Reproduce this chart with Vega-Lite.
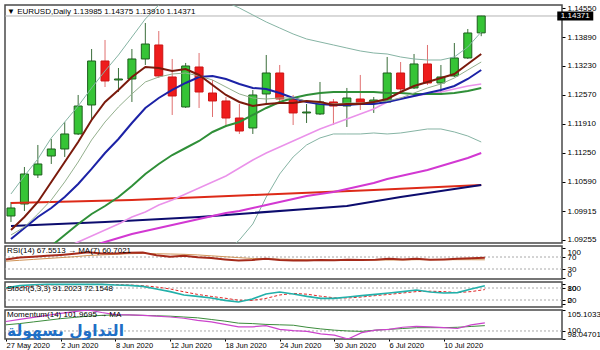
{
"$schema":"https://vega.github.io/schema/vega-lite/v6.json",
"padding":{"left":3,"top":3,"right":0,"bottom":0},
"background":"white",
"spacing":3,
"bounds":"flush",
"config":{
 "font":"Liberation Sans",
 "view":{"stroke":"#4a4a4a","strokeWidth":1.5},
 "axis":{"labelFont":"Liberation Sans","labelFontSize":8,"labelColor":"#000000","tickColor":"#000000","tickSize":3,"domain":false,"grid":false,"labelPadding":2},
 "title":{"font":"Liberation Sans","fontSize":8,"fontWeight":"normal","color":"#000000","anchor":"start","frame":"group"}
},
"datasets":{
 "candles":[
  {"d":"2020-05-27","i":0,"o":1.09803,"h":1.10123,"l":1.09666,"c":1.09986},
  {"d":"2020-05-28","i":1,"o":1.10077,"h":1.10922,"l":1.09917,"c":1.10762},
  {"d":"2020-05-29","i":2,"o":1.10740,"h":1.11425,"l":1.10671,"c":1.10991},
  {"d":"2020-06-01","i":3,"o":1.11173,"h":1.11562,"l":1.10991,"c":1.11333},
  {"d":"2020-06-02","i":4,"o":1.11333,"h":1.11950,"l":1.11151,"c":1.11676},
  {"d":"2020-06-03","i":5,"o":1.11676,"h":1.12567,"l":1.11653,"c":1.12315},
  {"d":"2020-06-04","i":6,"o":1.12338,"h":1.13617,"l":1.12019,"c":1.13343},
  {"d":"2020-06-05","i":7,"o":1.13343,"h":1.13823,"l":1.12749,"c":1.12887},
  {"d":"2020-06-08","i":8,"o":1.12909,"h":1.13183,"l":1.12635,"c":1.12932},
  {"d":"2020-06-09","i":9,"o":1.12932,"h":1.13617,"l":1.12407,"c":1.13389},
  {"d":"2020-06-10","i":10,"o":1.13389,"h":1.14211,"l":1.13252,"c":1.13731},
  {"d":"2020-06-11","i":11,"o":1.13709,"h":1.14028,"l":1.12955,"c":1.13001},
  {"d":"2020-06-12","i":12,"o":1.12978,"h":1.13389,"l":1.12110,"c":1.12544},
  {"d":"2020-06-15","i":13,"o":1.12293,"h":1.13298,"l":1.12270,"c":1.13229},
  {"d":"2020-06-16","i":14,"o":1.13206,"h":1.13526,"l":1.12270,"c":1.12635},
  {"d":"2020-06-17","i":15,"o":1.12612,"h":1.12909,"l":1.12064,"c":1.12430},
  {"d":"2020-06-18","i":16,"o":1.12430,"h":1.12521,"l":1.11836,"c":1.12041},
  {"d":"2020-06-19","i":17,"o":1.12041,"h":1.12361,"l":1.11676,"c":1.11744},
  {"d":"2020-06-22","i":18,"o":1.11813,"h":1.12681,"l":1.11676,"c":1.12567},
  {"d":"2020-06-23","i":19,"o":1.12590,"h":1.13480,"l":1.12338,"c":1.13069},
  {"d":"2020-06-24","i":20,"o":1.13069,"h":1.13252,"l":1.12407,"c":1.12475},
  {"d":"2020-06-25","i":21,"o":1.12475,"h":1.12567,"l":1.11881,"c":1.12156},
  {"d":"2020-06-26","i":22,"o":1.12156,"h":1.12361,"l":1.11927,"c":1.12178},
  {"d":"2020-06-29","i":23,"o":1.12133,"h":1.12864,"l":1.12110,"c":1.12407},
  {"d":"2020-06-30","i":24,"o":1.12407,"h":1.12475,"l":1.11881,"c":1.12315},
  {"d":"2020-07-01","i":25,"o":1.12315,"h":1.12727,"l":1.11836,"c":1.12498},
  {"d":"2020-07-02","i":26,"o":1.12475,"h":1.13024,"l":1.12224,"c":1.12361},
  {"d":"2020-07-03","i":27,"o":1.12407,"h":1.12521,"l":1.12156,"c":1.12452},
  {"d":"2020-07-06","i":28,"o":1.12407,"h":1.13435,"l":1.12384,"c":1.13069},
  {"d":"2020-07-07","i":29,"o":1.13069,"h":1.13320,"l":1.12635,"c":1.12704},
  {"d":"2020-07-08","i":30,"o":1.12727,"h":1.13503,"l":1.12704,"c":1.13275},
  {"d":"2020-07-09","i":31,"o":1.13275,"h":1.13709,"l":1.12795,"c":1.12841},
  {"d":"2020-07-10","i":32,"o":1.12841,"h":1.13252,"l":1.12567,"c":1.12978},
  {"d":"2020-07-13","i":33,"o":1.13001,"h":1.13754,"l":1.12978,"c":1.13412},
  {"d":"2020-07-14","i":34,"o":1.13412,"h":1.14074,"l":1.13389,"c":1.13983},
  {"d":"2020-07-15","i":35,"o":1.13985,"h":1.14375,"l":1.13910,"c":1.14371}
 ],
 "bid":[{"p":1.14371,"label":"1.14371"}],
 "ma5":[{"i":0,"p":1.09483},{"i":1,"p":1.09780},{"i":2,"p":1.10123},{"i":3,"p":1.10580},{"i":4,"p":1.11036},{"i":5,"p":1.11493},{"i":6,"p":1.11996},{"i":7,"p":1.12407},{"i":8,"p":1.12681},{"i":9,"p":1.12978},{"i":10,"p":1.13206},{"i":11,"p":1.13183},{"i":12,"p":1.13115},{"i":13,"p":1.13161},{"i":14,"p":1.13024},{"i":15,"p":1.12795},{"i":16,"p":1.12567},{"i":17,"p":1.12407},{"i":18,"p":1.12315},{"i":19,"p":1.12361},{"i":20,"p":1.12384},{"i":21,"p":1.12384},{"i":22,"p":1.12430},{"i":23,"p":1.12407},{"i":24,"p":1.12338},{"i":25,"p":1.12361},{"i":26,"p":1.12361},{"i":27,"p":1.12407},{"i":28,"p":1.12475},{"i":29,"p":1.12635},{"i":30,"p":1.12772},{"i":31,"p":1.12864},{"i":32,"p":1.12955},{"i":33,"p":1.13046},{"i":34,"p":1.13275},{"i":35,"p":1.13503}],
 "ma8":[{"i":0,"p":1.09369},{"i":1,"p":1.09552},{"i":2,"p":1.09849},{"i":3,"p":1.10169},{"i":4,"p":1.10580},{"i":5,"p":1.11036},{"i":6,"p":1.11539},{"i":7,"p":1.11950},{"i":8,"p":1.12293},{"i":9,"p":1.12590},{"i":10,"p":1.12864},{"i":11,"p":1.12978},{"i":12,"p":1.13046},{"i":13,"p":1.13069},{"i":14,"p":1.13001},{"i":15,"p":1.12909},{"i":16,"p":1.12749},{"i":17,"p":1.12590},{"i":18,"p":1.12498},{"i":19,"p":1.12475},{"i":20,"p":1.12498},{"i":21,"p":1.12498},{"i":22,"p":1.12430},{"i":23,"p":1.12384},{"i":24,"p":1.12361},{"i":25,"p":1.12384},{"i":26,"p":1.12384},{"i":27,"p":1.12407},{"i":28,"p":1.12430},{"i":29,"p":1.12498},{"i":30,"p":1.12612},{"i":31,"p":1.12727},{"i":32,"p":1.12818},{"i":33,"p":1.12955},{"i":34,"p":1.13138},{"i":35,"p":1.13320}],
 "blue":[{"i":0,"p":1.09278},{"i":1,"p":1.09529},{"i":2,"p":1.09780},{"i":3,"p":1.09986},{"i":4,"p":1.10237},{"i":5,"p":1.10534},{"i":6,"p":1.10877},{"i":7,"p":1.11242},{"i":8,"p":1.11562},{"i":9,"p":1.11927},{"i":10,"p":1.12270},{"i":11,"p":1.12498},{"i":12,"p":1.12681},{"i":13,"p":1.12841},{"i":14,"p":1.12978},{"i":15,"p":1.13001},{"i":16,"p":1.12932},{"i":17,"p":1.12818},{"i":18,"p":1.12727},{"i":19,"p":1.12704},{"i":20,"p":1.12612},{"i":21,"p":1.12498},{"i":22,"p":1.12407},{"i":23,"p":1.12361},{"i":24,"p":1.12338},{"i":25,"p":1.12338},{"i":26,"p":1.12361},{"i":27,"p":1.12361},{"i":28,"p":1.12407},{"i":29,"p":1.12475},{"i":30,"p":1.12544},{"i":31,"p":1.12612},{"i":32,"p":1.12681},{"i":33,"p":1.12772},{"i":34,"p":1.12932},{"i":35,"p":1.13138}],
 "sma20":[{"i":3,"p":1.09118},{"i":4,"p":1.09369},{"i":5,"p":1.09620},{"i":6,"p":1.09849},{"i":7,"p":1.10031},{"i":8,"p":1.10237},{"i":9,"p":1.10488},{"i":10,"p":1.10762},{"i":11,"p":1.10991},{"i":12,"p":1.11196},{"i":13,"p":1.11356},{"i":14,"p":1.11516},{"i":15,"p":1.11722},{"i":16,"p":1.11859},{"i":17,"p":1.11950},{"i":18,"p":1.12110},{"i":19,"p":1.12270},{"i":20,"p":1.12407},{"i":21,"p":1.12498},{"i":22,"p":1.12567},{"i":23,"p":1.12612},{"i":24,"p":1.12635},{"i":25,"p":1.12635},{"i":26,"p":1.12635},{"i":27,"p":1.12635},{"i":28,"p":1.12612},{"i":29,"p":1.12612},{"i":30,"p":1.12590},{"i":31,"p":1.12590},{"i":32,"p":1.12590},{"i":33,"p":1.12612},{"i":34,"p":1.12658},{"i":35,"p":1.12727}],
 "pink":[{"i":4,"p":1.09072},{"i":5,"p":1.09209},{"i":6,"p":1.09346},{"i":7,"p":1.09483},{"i":8,"p":1.09620},{"i":9,"p":1.09780},{"i":10,"p":1.09895},{"i":11,"p":1.10054},{"i":12,"p":1.10169},{"i":13,"p":1.10306},{"i":14,"p":1.10443},{"i":15,"p":1.10580},{"i":16,"p":1.10717},{"i":17,"p":1.10899},{"i":18,"p":1.11082},{"i":19,"p":1.11242},{"i":20,"p":1.11379},{"i":21,"p":1.11516},{"i":22,"p":1.11653},{"i":23,"p":1.11790},{"i":24,"p":1.11904},{"i":25,"p":1.12019},{"i":26,"p":1.12133},{"i":27,"p":1.12247},{"i":28,"p":1.12407},{"i":29,"p":1.12498},{"i":30,"p":1.12544},{"i":31,"p":1.12590},{"i":32,"p":1.12635},{"i":33,"p":1.12704},{"i":34,"p":1.12772},{"i":35,"p":1.12818}],
 "magenta":[{"i":6,"p":1.09118},{"i":7,"p":1.09209},{"i":8,"p":1.09300},{"i":9,"p":1.09392},{"i":10,"p":1.09460},{"i":11,"p":1.09529},{"i":12,"p":1.09597},{"i":13,"p":1.09666},{"i":14,"p":1.09735},{"i":15,"p":1.09803},{"i":16,"p":1.09872},{"i":17,"p":1.09917},{"i":18,"p":1.09986},{"i":19,"p":1.10054},{"i":20,"p":1.10123},{"i":21,"p":1.10191},{"i":22,"p":1.10260},{"i":23,"p":1.10306},{"i":24,"p":1.10351},{"i":25,"p":1.10420},{"i":26,"p":1.10488},{"i":27,"p":1.10557},{"i":28,"p":1.10648},{"i":29,"p":1.10717},{"i":30,"p":1.10785},{"i":31,"p":1.10854},{"i":32,"p":1.10945},{"i":33,"p":1.11036},{"i":34,"p":1.11128},{"i":35,"p":1.11242}],
 "red":[{"i":0,"p":1.10100},{"i":9,"p":1.10169},{"i":18,"p":1.10283},{"i":27,"p":1.10397},{"i":35,"p":1.10511}],
 "navy":[{"i":0,"p":1.09575},{"i":7,"p":1.09666},{"i":14,"p":1.09780},{"i":18,"p":1.09872},{"i":22,"p":1.09963},{"i":25,"p":1.10031},{"i":29,"p":1.10237},{"i":32,"p":1.10374},{"i":35,"p":1.10511}],
 "bbu":[{"i":0,"p":1.10306},{"i":1,"p":1.10717},{"i":2,"p":1.11105},{"i":3,"p":1.11585},{"i":4,"p":1.11950},{"i":5,"p":1.12315},{"i":6,"p":1.12727},{"i":7,"p":1.13115},{"i":8,"p":1.13480},{"i":9,"p":1.13891},{"i":10,"p":1.14302},{"i":11,"p":1.14622},{"i":12,"p":1.14919},{"i":13,"p":1.15033},{"i":14,"p":1.15033},{"i":15,"p":1.14874},{"i":16,"p":1.14691},{"i":17,"p":1.14554},{"i":18,"p":1.14394},{"i":19,"p":1.14234},{"i":20,"p":1.14097},{"i":21,"p":1.13960},{"i":22,"p":1.13846},{"i":23,"p":1.13777},{"i":24,"p":1.13709},{"i":25,"p":1.13640},{"i":26,"p":1.13572},{"i":27,"p":1.13526},{"i":28,"p":1.13503},{"i":29,"p":1.13435},{"i":30,"p":1.13389},{"i":31,"p":1.13366},{"i":32,"p":1.13366},{"i":33,"p":1.13435},{"i":34,"p":1.13663},{"i":35,"p":1.14006}],
 "bbl":[{"i":15,"p":1.08638},{"i":16,"p":1.08981},{"i":17,"p":1.09255},{"i":18,"p":1.09620},{"i":19,"p":1.10237},{"i":20,"p":1.10762},{"i":21,"p":1.11151},{"i":22,"p":1.11425},{"i":23,"p":1.11585},{"i":24,"p":1.11676},{"i":25,"p":1.11676},{"i":26,"p":1.11676},{"i":27,"p":1.11699},{"i":28,"p":1.11676},{"i":29,"p":1.11699},{"i":30,"p":1.11744},{"i":31,"p":1.11790},{"i":32,"p":1.11790},{"i":33,"p":1.11722},{"i":34,"p":1.11630},{"i":35,"p":1.11493}],
 "ind":[
  {"i":0,"rsi":62,"rsima":56,"st":80,"sts":76,"mom":102.3,"mma":101.5},
  {"i":1,"rsi":68,"rsima":59,"st":92,"sts":85,"mom":102.8,"mma":101.8},
  {"i":2,"rsi":71,"rsima":62,"st":96,"sts":91,"mom":103.3,"mma":102.2},
  {"i":3,"rsi":74,"rsima":65,"st":98,"sts":95,"mom":103.8,"mma":102.6},
  {"i":4,"rsi":77,"rsima":68,"st":98,"sts":97,"mom":104.3,"mma":103.0},
  {"i":5,"rsi":81,"rsima":71,"st":98,"sts":97,"mom":104.7,"mma":103.3},
  {"i":6,"rsi":86,"rsima":75,"st":99,"sts":98,"mom":105.1,"mma":103.6},
  {"i":7,"rsi":82,"rsima":77,"st":98,"sts":98,"mom":104.5,"mma":103.8},
  {"i":8,"rsi":82,"rsima":79,"st":95,"sts":97,"mom":104.0,"mma":103.9},
  {"i":9,"rsi":84,"rsima":81,"st":93,"sts":95,"mom":103.9,"mma":103.9},
  {"i":10,"rsi":85,"rsima":82,"st":88,"sts":92,"mom":103.8,"mma":103.8},
  {"i":11,"rsi":76,"rsima":81,"st":75,"sts":85,"mom":103.6,"mma":103.7},
  {"i":12,"rsi":71,"rsima":80,"st":62,"sts":75,"mom":103.4,"mma":103.6},
  {"i":13,"rsi":74,"rsima":79,"st":45,"sts":61,"mom":103.1,"mma":103.4},
  {"i":14,"rsi":69,"rsima":77,"st":38,"sts":48,"mom":102.6,"mma":103.2},
  {"i":15,"rsi":67,"rsima":74,"st":30,"sts":38,"mom":102.2,"mma":102.8},
  {"i":16,"rsi":62,"rsima":71,"st":18,"sts":29,"mom":101.6,"mma":102.4},
  {"i":17,"rsi":58,"rsima":68,"st":10,"sts":19,"mom":101.0,"mma":101.9},
  {"i":18,"rsi":60,"rsima":65,"st":25,"sts":18,"mom":101.0,"mma":101.8},
  {"i":19,"rsi":64,"rsima":64,"st":50,"sts":28,"mom":101.3,"mma":101.6},
  {"i":20,"rsi":60,"rsima":63,"st":60,"sts":45,"mom":100.4,"mma":101.5},
  {"i":21,"rsi":58,"rsima":62,"st":50,"sts":53,"mom":100.1,"mma":101.4},
  {"i":22,"rsi":58,"rsima":61,"st":38,"sts":49,"mom":99.9,"mma":100.9},
  {"i":23,"rsi":60,"rsima":60,"st":28,"sts":39,"mom":99.3,"mma":100.5},
  {"i":24,"rsi":59,"rsima":60,"st":28,"sts":31,"mom":99.0,"mma":100.2},
  {"i":25,"rsi":61,"rsima":60,"st":35,"sts":30,"mom":98.05,"mma":100.0},
  {"i":26,"rsi":60,"rsima":60,"st":42,"sts":35,"mom":99.6,"mma":99.9},
  {"i":27,"rsi":61,"rsima":60,"st":48,"sts":42,"mom":100.2,"mma":100.2},
  {"i":28,"rsi":64,"rsima":60,"st":55,"sts":48,"mom":100.4,"mma":100.4},
  {"i":29,"rsi":62,"rsima":60,"st":62,"sts":55,"mom":100.9,"mma":100.6},
  {"i":30,"rsi":64,"rsima":61,"st":70,"sts":62,"mom":101.1,"mma":100.8},
  {"i":31,"rsi":61,"rsima":61,"st":60,"sts":64,"mom":101.0,"mma":100.8},
  {"i":32,"rsi":62,"rsima":61,"st":55,"sts":62,"mom":100.8,"mma":100.8},
  {"i":33,"rsi":64,"rsima":61,"st":57,"sts":57,"mom":100.6,"mma":100.9},
  {"i":34,"rsi":66,"rsima":61,"st":75,"sts":62,"mom":101.5,"mma":101.1},
  {"i":35,"rsi":67.55,"rsima":60.70,"st":91.2,"sts":72.15,"mom":101.97,"mma":101.3}
 ]
},
"vconcat":[
 {
  "width":557,"height":238,
  "title":{"text":"▼ EURUSD,Daily  1.13985 1.14375 1.13910 1.14371","offset":-12,"dx":2},
  "layer":[
   {"data":{"name":"bid"},"mark":{"type":"rule","color":"#b4b4b4","strokeWidth":1},
    "encoding":{"y":{"field":"p","type":"quantitative","scale":{"domain":[1.09186,1.14622],"nice":false,"zero":false},
     "axis":{"orient":"right","values":[1.1455,1.1389,1.1323,1.1257,1.1191,1.1125,1.1059,1.09915,1.09255],"format":".5f","title":null,"labelOverlap":false}}}},
   {"data":{"name":"candles"},"mark":{"type":"rule","strokeWidth":1,"clip":true},
    "encoding":{"x":{"field":"i","type":"quantitative","scale":{"domain":[-0.073,40.64],"nice":false,"zero":false},"axis":null},
     "y":{"field":"l","type":"quantitative","axis":{"orient":"right","values":[1.1455,1.1389,1.1323,1.1257,1.1191,1.1125,1.1059,1.09915,1.09255],"format":".5f","title":null,"labelOverlap":false}},"y2":{"field":"h"},
     "color":{"condition":{"test":"datum.c >= datum.o","value":"#3b6e3b"},"value":"#e07070"}}},
   {"data":{"name":"candles"},"mark":{"type":"bar","width":8,"clip":true,"strokeWidth":1},
    "encoding":{"x":{"field":"i","type":"quantitative","axis":null},
     "y":{"field":"o","type":"quantitative","axis":{"orient":"right","values":[1.1455,1.1389,1.1323,1.1257,1.1191,1.1125,1.1059,1.09915,1.09255],"format":".5f","title":null,"labelOverlap":false}},"y2":{"field":"c"},
     "fill":{"condition":{"test":"datum.c >= datum.o","value":"#36c436"},"value":"#ee1c1c"},
     "stroke":{"condition":{"test":"datum.c >= datum.o","value":"#1e5e1e"},"value":"#cc1414"}}},
   {"data":{"name":"bbu"},"mark":{"type":"line","clip":true,"color":"#86b4a4","strokeWidth":1},"encoding":{"x":{"field":"i","type":"quantitative","axis":null},"y":{"field":"p","type":"quantitative","axis":{"orient":"right","values":[1.1455,1.1389,1.1323,1.1257,1.1191,1.1125,1.1059,1.09915,1.09255],"format":".5f","title":null,"labelOverlap":false}}}},
   {"data":{"name":"bbl"},"mark":{"type":"line","clip":true,"color":"#86b4a4","strokeWidth":1},"encoding":{"x":{"field":"i","type":"quantitative","axis":null},"y":{"field":"p","type":"quantitative","axis":{"orient":"right","values":[1.1455,1.1389,1.1323,1.1257,1.1191,1.1125,1.1059,1.09915,1.09255],"format":".5f","title":null,"labelOverlap":false}}}},
   {"data":{"name":"red"},"mark":{"type":"line","clip":true,"color":"#dd2a18","strokeWidth":2},"encoding":{"x":{"field":"i","type":"quantitative","axis":null},"y":{"field":"p","type":"quantitative","axis":{"orient":"right","values":[1.1455,1.1389,1.1323,1.1257,1.1191,1.1125,1.1059,1.09915,1.09255],"format":".5f","title":null,"labelOverlap":false}}}},
   {"data":{"name":"navy"},"mark":{"type":"line","clip":true,"color":"#0c0c6e","strokeWidth":2},"encoding":{"x":{"field":"i","type":"quantitative","axis":null},"y":{"field":"p","type":"quantitative","axis":{"orient":"right","values":[1.1455,1.1389,1.1323,1.1257,1.1191,1.1125,1.1059,1.09915,1.09255],"format":".5f","title":null,"labelOverlap":false}}}},
   {"data":{"name":"magenta"},"mark":{"type":"line","clip":true,"color":"#d238d2","strokeWidth":2},"encoding":{"x":{"field":"i","type":"quantitative","axis":null},"y":{"field":"p","type":"quantitative","axis":{"orient":"right","values":[1.1455,1.1389,1.1323,1.1257,1.1191,1.1125,1.1059,1.09915,1.09255],"format":".5f","title":null,"labelOverlap":false}}}},
   {"data":{"name":"pink"},"mark":{"type":"line","clip":true,"color":"#ea92ea","strokeWidth":1.5},"encoding":{"x":{"field":"i","type":"quantitative","axis":null},"y":{"field":"p","type":"quantitative","axis":{"orient":"right","values":[1.1455,1.1389,1.1323,1.1257,1.1191,1.1125,1.1059,1.09915,1.09255],"format":".5f","title":null,"labelOverlap":false}}}},
   {"data":{"name":"sma20"},"mark":{"type":"line","clip":true,"color":"#2f8f38","strokeWidth":2},"encoding":{"x":{"field":"i","type":"quantitative","axis":null},"y":{"field":"p","type":"quantitative","axis":{"orient":"right","values":[1.1455,1.1389,1.1323,1.1257,1.1191,1.1125,1.1059,1.09915,1.09255],"format":".5f","title":null,"labelOverlap":false}}}},
   {"data":{"name":"blue"},"mark":{"type":"line","clip":true,"color":"#1c22a6","strokeWidth":2},"encoding":{"x":{"field":"i","type":"quantitative","axis":null},"y":{"field":"p","type":"quantitative","axis":{"orient":"right","values":[1.1455,1.1389,1.1323,1.1257,1.1191,1.1125,1.1059,1.09915,1.09255],"format":".5f","title":null,"labelOverlap":false}}}},
   {"data":{"name":"ma8"},"mark":{"type":"line","clip":true,"color":"#94b08e","strokeWidth":1},"encoding":{"x":{"field":"i","type":"quantitative","axis":null},"y":{"field":"p","type":"quantitative","axis":{"orient":"right","values":[1.1455,1.1389,1.1323,1.1257,1.1191,1.1125,1.1059,1.09915,1.09255],"format":".5f","title":null,"labelOverlap":false}}}},
   {"data":{"name":"ma5"},"mark":{"type":"line","clip":true,"color":"#7a1a0c","strokeWidth":2},"encoding":{"x":{"field":"i","type":"quantitative","axis":null},"y":{"field":"p","type":"quantitative","axis":{"orient":"right","values":[1.1455,1.1389,1.1323,1.1257,1.1191,1.1125,1.1059,1.09915,1.09255],"format":".5f","title":null,"labelOverlap":false}}}},
   {"data":{"name":"bid"},"mark":{"type":"rect","color":"#000000","width":36,"height":9,"clip":false},
    "encoding":{"x":{"datum":42.0,"type":"quantitative","axis":null},"y":{"field":"p","type":"quantitative","axis":{"orient":"right","values":[1.1455,1.1389,1.1323,1.1257,1.1191,1.1125,1.1059,1.09915,1.09255],"format":".5f","title":null,"labelOverlap":false}}}},
   {"data":{"name":"bid"},"mark":{"type":"text","color":"#ffffff","fontSize":8,"align":"center","baseline":"middle","clip":false},
    "encoding":{"x":{"datum":42.0,"type":"quantitative","axis":null},"y":{"field":"p","type":"quantitative","axis":{"orient":"right","values":[1.1455,1.1389,1.1323,1.1257,1.1191,1.1125,1.1059,1.09915,1.09255],"format":".5f","title":null,"labelOverlap":false}},"text":{"field":"label"}}}
  ]
 },
 {
  "width":557,"height":33,
  "title":{"text":"RSI(14) 67.5513 → MA(7) 60.7021","offset":-9,"dx":2},
  "data":{"name":"ind"},
  "layer":[
   {"data":{"values":[{"lv":70},{"lv":30}]},"mark":{"type":"rule","color":"#a8a8a8","strokeDash":[2,2],"strokeWidth":1},
    "encoding":{"y":{"field":"lv","type":"quantitative","scale":{"domain":[-3.3,106.7],"nice":false,"zero":false},
     "axis":{"orient":"right","values":[100,70,30,0],"format":"d","title":null,"labelOverlap":false,"labelBaseline":{"condition":[{"test":"datum.value == 100","value":"top"},{"test":"datum.value == 0","value":"bottom"}],"value":"middle"}}}}},
   {"mark":{"type":"line","color":"#d09458","strokeWidth":1,"clip":true},
    "encoding":{"x":{"field":"i","type":"quantitative","scale":{"domain":[-0.073,40.64],"nice":false,"zero":false},"axis":null},
     "y":{"field":"rsima","type":"quantitative","axis":{"orient":"right","values":[100,70,30,0],"format":"d","title":null,"labelOverlap":false,"labelBaseline":{"condition":[{"test":"datum.value == 100","value":"top"},{"test":"datum.value == 0","value":"bottom"}],"value":"middle"}}}}},
   {"mark":{"type":"line","color":"#a52a1a","strokeWidth":2,"clip":true},
    "encoding":{"x":{"field":"i","type":"quantitative","axis":null},
     "y":{"field":"rsi","type":"quantitative","axis":{"orient":"right","values":[100,70,30,0],"format":"d","title":null,"labelOverlap":false,"labelBaseline":{"condition":[{"test":"datum.value == 100","value":"top"},{"test":"datum.value == 0","value":"bottom"}],"value":"middle"}}}}}
  ]
 },
 {
  "width":557,"height":25,
  "title":{"text":"Stoch(5,3,3) 91.2023 72.1548","offset":-11,"dx":2},
  "data":{"name":"ind"},
  "layer":[
   {"data":{"values":[{"lv":80},{"lv":20}]},"mark":{"type":"rule","color":"#a8a8a8","strokeDash":[2,2],"strokeWidth":1},
    "encoding":{"y":{"field":"lv","type":"quantitative","scale":{"domain":[-15,110],"nice":false,"zero":false},
     "axis":{"orient":"right","values":[100,80,20,0],"format":"d","title":null,"labelOverlap":false,"labelBaseline":{"condition":[{"test":"datum.value == 100","value":"top"},{"test":"datum.value == 0","value":"bottom"}],"value":"middle"}}}}},
   {"mark":{"type":"line","color":"#e02828","strokeWidth":1,"strokeDash":[3,2],"clip":true},
    "encoding":{"x":{"field":"i","type":"quantitative","scale":{"domain":[-0.073,40.64],"nice":false,"zero":false},"axis":null},
     "y":{"field":"sts","type":"quantitative","axis":{"orient":"right","values":[100,80,20,0],"format":"d","title":null,"labelOverlap":false,"labelBaseline":{"condition":[{"test":"datum.value == 100","value":"top"},{"test":"datum.value == 0","value":"bottom"}],"value":"middle"}}}}},
   {"mark":{"type":"line","color":"#22b0aa","strokeWidth":1.6,"clip":true},
    "encoding":{"x":{"field":"i","type":"quantitative","axis":null},
     "y":{"field":"st","type":"quantitative","axis":{"orient":"right","values":[100,80,20,0],"format":"d","title":null,"labelOverlap":false,"labelBaseline":{"condition":[{"test":"datum.value == 100","value":"top"},{"test":"datum.value == 0","value":"bottom"}],"value":"middle"}}}}}
  ]
 },
 {
  "width":557,"height":29,
  "title":{"text":"Momentum(14) 101.9695 → MA","offset":-9,"dx":2},
  "data":{"name":"ind"},
  "layer":[
   {"data":{"values":[{"lv":100}]},"mark":{"type":"rule","color":"#a8a8a8","strokeDash":[2,2],"strokeWidth":1},
    "encoding":{"y":{"field":"lv","type":"quantitative","scale":{"domain":[98.047,105.1033],"nice":false,"zero":false},
     "axis":{"orient":"right","values":[105.1033,100,98.04701],"format":".7~r","title":null,"labelOverlap":false,"labelBaseline":{"condition":[{"test":"datum.value > 105","value":"top"},{"test":"datum.value < 99","value":"bottom"}],"value":"middle"}}}}},
   {"mark":{"type":"line","color":"#3c8c3c","strokeWidth":1,"clip":true},
    "encoding":{"x":{"field":"i","type":"quantitative","scale":{"domain":[-0.073,40.64],"nice":false,"zero":false},
      "axis":{"orient":"bottom","values":[0,4,8,12,16,20,24,28,32],"labelAlign":"left","labelFlush":false,"labelOverlap":false,"labelFontSize":7.5,"tickSize":2,"labelPadding":0,
       "labelExpr":"['27 May 2020','2 Jun 2020','8 Jun 2020','12 Jun 2020','18 Jun 2020','24 Jun 2020','30 Jun 2020','6 Jul 2020','10 Jul 2020'][datum.value/4]",
       "title":"التداول بسهولة","titleX":60,"titleY":-4,"titleAlign":"center","titleBaseline":"alphabetic","titleAngle":0,"titleColor":"#1f6fc6","titleFontSize":15.5,"titleFontWeight":"bold","titleFont":"DejaVu Sans","zindex":1}},
     "y":{"field":"mma","type":"quantitative","axis":{"orient":"right","values":[105.1033,100,98.04701],"format":".7~r","title":null,"labelOverlap":false,"labelBaseline":{"condition":[{"test":"datum.value > 105","value":"top"},{"test":"datum.value < 99","value":"bottom"}],"value":"middle"}}}}},
   {"mark":{"type":"line","color":"#cc44cc","strokeWidth":1.2,"clip":true},
    "encoding":{"x":{"field":"i","type":"quantitative",
      "axis":{"orient":"bottom","values":[0,4,8,12,16,20,24,28,32],"labelAlign":"left","labelFlush":false,"labelOverlap":false,"labelFontSize":7.5,"tickSize":2,"labelPadding":0,
       "labelExpr":"['27 May 2020','2 Jun 2020','8 Jun 2020','12 Jun 2020','18 Jun 2020','24 Jun 2020','30 Jun 2020','6 Jul 2020','10 Jul 2020'][datum.value/4]",
       "title":"التداول بسهولة","titleX":60,"titleY":-4,"titleAlign":"center","titleBaseline":"alphabetic","titleAngle":0,"titleColor":"#1f6fc6","titleFontSize":15.5,"titleFontWeight":"bold","titleFont":"DejaVu Sans","zindex":1}},
     "y":{"field":"mom","type":"quantitative","axis":{"orient":"right","values":[105.1033,100,98.04701],"format":".7~r","title":null,"labelOverlap":false,"labelBaseline":{"condition":[{"test":"datum.value > 105","value":"top"},{"test":"datum.value < 99","value":"bottom"}],"value":"middle"}}}}}
  ]
 }
]
}
